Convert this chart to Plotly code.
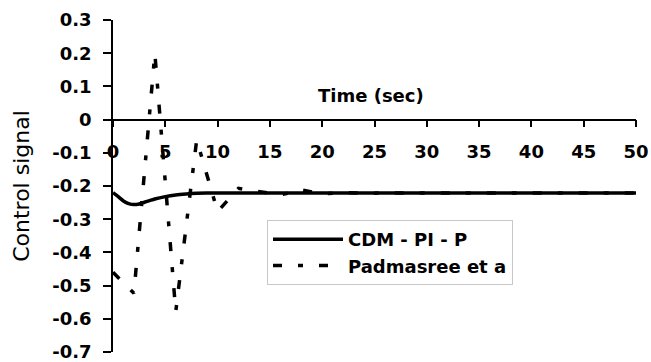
import plotly.graph_objects as go

# ---- data ----
time_cdm = [0, 0.5, 1, 1.5, 2, 2.5, 3, 3.5, 4, 5, 6, 7, 8, 9, 10, 12, 14, 16, 18, 20,
            25, 30, 35, 40, 45, 50]
cdm_pi_p = [-0.220, -0.232, -0.245, -0.253, -0.256, -0.254, -0.249, -0.244, -0.239, -0.232,
            -0.227, -0.224, -0.222, -0.221, -0.221, -0.221, -0.221, -0.221, -0.221, -0.221,
            -0.221, -0.221, -0.221, -0.221, -0.221, -0.221]

time_pad = [0, 2, 4, 6, 8, 10, 12, 14, 16, 18, 20, 22, 24, 26, 28, 30, 32, 34, 36, 38,
            40, 42, 44, 46, 48, 50]
padmasree = [-0.460, -0.523, 0.200, -0.578, -0.061, -0.277, -0.207, -0.217, -0.227, -0.212,
             -0.224, -0.220, -0.222, -0.221, -0.221, -0.221, -0.221, -0.221, -0.221, -0.221,
             -0.221, -0.221, -0.221, -0.221, -0.221, -0.221]

x_tickvals = [0, 5, 10, 15, 20, 25, 30, 35, 40, 45, 50]
x_ticktext = ["0", "5", "10", "15", "20", "25", "30", "35", "40", "45", "50"]
y_tickvals = [0.3, 0.2, 0.1, 0.0, -0.1, -0.2, -0.3, -0.4, -0.5, -0.6, -0.7]
y_ticktext = ["0.3", "0.2", "0.1", "0", "-0.1", "-0.2", "-0.3", "-0.4", "-0.5", "-0.6", "-0.7"]

series_names = ["CDM - PI - P", "Padmasree et a"]
x_title = "Time (sec)"
y_title = "Control signal"

BOLD = "DejaVu Sans"

fig = go.Figure()
fig.add_trace(go.Scatter(
    x=time_cdm, y=cdm_pi_p, mode="lines", name=series_names[0],
    line=dict(color="black", width=3.5, shape="spline", smoothing=0.6),
    legendgroup="a",
))
fig.add_trace(go.Scatter(
    x=time_pad, y=padmasree, mode="lines", name=series_names[1],
    line=dict(color="black", width=3.5, dash="9px,16px,5px,16px"),
    legendgroup="b",
))

fig.update_layout(
    width=651, height=362,
    margin=dict(l=113, r=15, t=20, b=10),
    paper_bgcolor="white", plot_bgcolor="white",
    showlegend=True,
    font=dict(family=BOLD, color="black"),
    legend=dict(
        x=(267 - 113) / 523, y=(352 - 220) / 332, xanchor="left", yanchor="top",
        bgcolor="white", bordercolor="#c8c8c8", borderwidth=1,
        font=dict(family=BOLD, size=18, color="black", weight="bold"),
        itemwidth=70, traceorder="grouped", tracegroupgap=0,
    ),
    xaxis=dict(
        range=[0, 50], anchor="free", position=0.7,
        tickvals=x_tickvals, ticktext=x_ticktext,
        ticks="outside", ticklen=7, tickwidth=1.5, tickcolor="black",
        showline=True, linecolor="black", linewidth=1.5,
        showgrid=False, zeroline=False,
        tickfont=dict(family=BOLD, size=18, color="black", weight="bold"),
        ticklabelstandoff=9, automargin=False, ticklabeloverflow="allow",
    ),
    yaxis=dict(
        range=[-0.7002, 0.3002],
        tickvals=y_tickvals, ticktext=y_ticktext,
        ticks="outside", ticklen=8, tickwidth=1.5, tickcolor="black",
        showline=True, linecolor="black", linewidth=1.5,
        showgrid=False, zeroline=False,
        tickfont=dict(family=BOLD, size=18, color="black", weight="bold"),
        ticklabelstandoff=8, automargin=False, ticklabeloverflow="allow",
        title=dict(text=y_title, font=dict(family="DejaVu Sans", size=22, color="black"),
                   standoff=17),
    ),
    annotations=[dict(
        text=x_title, xref="x", yref="y", x=24.7, y=0.074,
        showarrow=False, xanchor="center", yanchor="middle",
        font=dict(family=BOLD, size=18, color="black", weight="bold"),
    )],
)

fig.write_html("out.html")
